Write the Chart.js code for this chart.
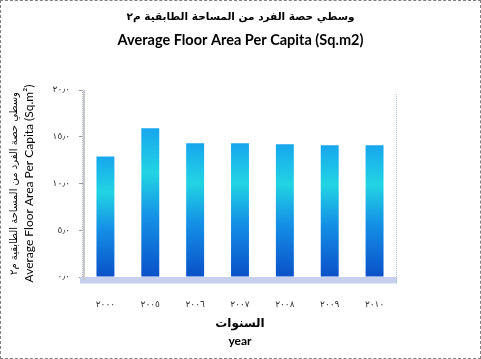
<!DOCTYPE html>
<html><head><meta charset="utf-8">
<script src="https://cdn.jsdelivr.net/npm/chart.js@4"></script>
<style>
html,body{margin:0;padding:0;background:#fff;}
#wrap{position:relative;width:481px;height:359px;}
#c{position:absolute;left:0;top:0;}
#frame{position:absolute;left:0;top:0;width:481px;height:359px;box-sizing:border-box;border:1px dashed #808080;pointer-events:none;}
</style></head>
<body><div id="wrap"><canvas id="c" width="481" height="359"></canvas><div id="frame"></div></div>
<script>
const categories = ['٢٠٠٠','٢٠٠٥','٢٠٠٦','٢٠٠٧','٢٠٠٨','٢٠٠٩','٢٠١٠'];
const values = [12.9, 15.9, 14.3, 14.3, 14.2, 14.1, 14.1];
const yTickLabels = ['٠٫٠','٥٫٠','١٠٫٠','١٥٫٠','٢٠٫٠'];
const titleArabic = 'وسطي حصة الفرد من المساحة الطابقية م٢';
const titleEnglish = 'Average Floor Area Per Capita (Sq.m2)';
const xTitleLines = ['السنوات', 'year'];
const yTitleArabic = 'وسطي حصة الفرد من المساحة الطابقية م٢';
const yTitleEnglish = 'Average Floor Area Per Capita (Sq.m²)';

const decor = {
  id: 'decor',
  beforeDatasetsDraw(chart) {
    const {ctx, chartArea: a} = chart;
    ctx.save();
    ctx.fillStyle = '#c6d0ec';
    ctx.fillRect(a.left - 3, a.bottom, a.right - a.left + 3, 6);
    ctx.fillStyle = '#e2e7f5';
    ctx.fillRect(a.left - 3, a.bottom + 6, a.right - a.left + 3, 1);
    ctx.strokeStyle = '#a9c3cf';
    ctx.lineWidth = 1;
    ctx.setLineDash([1, 1]);
    ctx.beginPath();
    ctx.moveTo(a.right - 0.5, a.top + 4);
    ctx.lineTo(a.right - 0.5, a.bottom + 6);
    ctx.stroke();
    ctx.setLineDash([]);
    ctx.strokeStyle = '#c8c8c8';
    ctx.lineWidth = 2;
    ctx.beginPath();
    ctx.moveTo(a.left + 1, a.top);
    ctx.lineTo(a.left + 1, a.bottom + 3);
    ctx.stroke();
    ctx.strokeStyle = '#b4b8e8';
    ctx.lineWidth = 1;
    ctx.setLineDash([1, 1]);
    ctx.beginPath();
    ctx.moveTo(a.left - 0.5, a.top);
    ctx.lineTo(a.left - 0.5, a.bottom);
    ctx.stroke();
    ctx.restore();
  }
};

new Chart(document.getElementById('c'), {
  type: 'bar',
  data: {
    labels: categories,
    datasets: [{
      data: values,
      xAxisID: 'x',
      yAxisID: 'y',
      barPercentage: 0.4,
      categoryPercentage: 1.0,
      borderWidth: 0,
      backgroundColor(ctx) {
        const chart = ctx.chart;
        if (!chart.chartArea || !ctx.parsed) return '#1ab0f0';
        const ys = chart.scales.y;
        const top = ys.getPixelForValue(ctx.parsed.y);
        const bot = ys.getPixelForValue(0);
        const g = chart.ctx.createLinearGradient(0, top, 0, bot);
        g.addColorStop(0, '#17a6ee');
        g.addColorStop(0.3, '#22d4e2');
        g.addColorStop(0.6, '#1590e6');
        g.addColorStop(1, '#0a50c8');
        return g;
      }
    }]
  },
  plugins: [decor],
  options: {
    responsive: false,
    animation: false,
    devicePixelRatio: 1,
    layout: {padding: {left: 0, right: 0, top: 0, bottom: 6}},
    plugins: {
      legend: {display: false},
      tooltip: {enabled: false},
      title: {
        display: true,
        text: titleArabic,
        color: '#000',
        font: {family: '"DejaVu Sans", sans-serif', size: 10.5, weight: 'bold'},
        padding: {top: 11, bottom: 8}
      },
      subtitle: {
        display: true,
        text: titleEnglish,
        color: '#000',
        font: {family: 'Lato, sans-serif', size: 14.5, weight: 'bold'},
        padding: {top: 0, bottom: 41}
      }
    },
    scales: {
      x: {
        grid: {display: false},
        border: {display: false},
        ticks: {color: '#333', font: {family: '"DejaVu Sans", sans-serif', size: 9}, padding: 14},
        title: {
          display: true, text: xTitleLines, color: '#000',
          font: {family: 'Lato, "DejaVu Sans", sans-serif', size: 12, weight: 'bold', lineHeight: 1.5},
          padding: {top: 8, bottom: 3}
        },
        afterFit(s) { s.height = 76; }
      },
      yAr: {
        position: 'left',
        weight: 10,
        display: true,
        min: 0, max: 20,
        grid: {display: false},
        border: {display: false},
        ticks: {display: false},
        title: {
          display: true, text: yTitleArabic, color: '#000',
          font: {family: '"DejaVu Sans", sans-serif', size: 10},
          padding: {top: 8, bottom: 0}
        },
        afterFit(s) { s.width = 22; }
      },
      y: {
        min: 0, max: 20,
        weight: 0,
        grid: {display: true, drawOnChartArea: false, color: '#999', tickLength: 4},
        border: {display: false},
        ticks: {
          stepSize: 5, color: '#333', padding: 9,
          font: {family: '"DejaVu Sans", sans-serif', size: 9},
          callback(v, i) { return yTickLabels[i]; }
        },
        title: {
          display: true, text: yTitleEnglish, color: '#000',
          font: {family: 'Lato, sans-serif', size: 12},
          padding: {top: 0, bottom: 0}
        },
        afterFit(s) { s.width = 61; }
      },
      yRight: {
        position: 'right',
        display: true,
        min: 0, max: 20,
        grid: {display: false},
        border: {display: false},
        ticks: {display: false},
        afterFit(s) { s.width = 84; }
      }
    }
  }
});
</script>
</body></html>
